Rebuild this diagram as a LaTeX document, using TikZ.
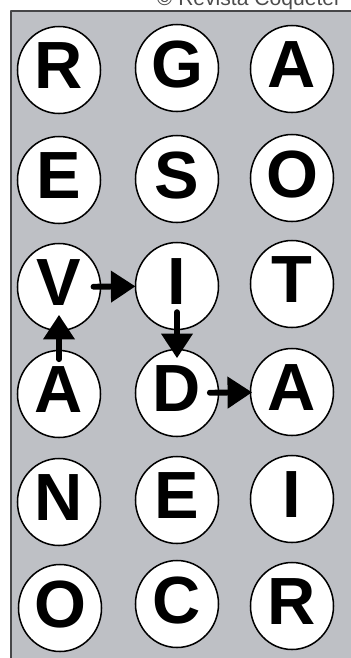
\documentclass[tikz,border=0pt]{standalone}
\usepackage{fontspec}
\setmainfont{Liberation Sans}
\usetikzlibrary{arrows.meta,shapes.geometric}
\definecolor{panelgray}{RGB}{190,192,197}
\definecolor{framegray}{RGB}{70,70,72}
\begin{document}
\begin{tikzpicture}[x=0.03cm,y=-0.03cm,line cap=round,line join=round,
  letter/.style={ellipse,draw=black,line width=1.3pt,fill=white,
    minimum width=2.49cm,minimum height=2.61cm,inner sep=0pt,outer sep=0pt,
    text depth=0.24cm,font=\fontsize{57}{57}\selectfont\bfseries},
  link/.style={line width=5pt,-{Triangle[length=21pt,width=26pt]}}]
  \useasboundingbox (0,0) rectangle (350,658);
  \draw[fill=panelgray,draw=framegray,line width=1.6pt] (11,11) rectangle (380,690);
  \node[anchor=base east,font=\fontsize{18}{18}\selectfont,text=black!70] (credit) at (343,5) {© Revista Coquetel};
  \node[letter] (n11) at (59,70)  {R};
  \node[letter] (n12) at (177,68) {G};
  \node[letter] (n13) at (292,69) {A};
  \node[letter] (n21) at (59,180) {E};
  \node[letter] (n22) at (177,179) {S};
  \node[letter] (n23) at (292,178) {O};
  \node[letter] (n31) at (59,287) {V};
  \node[letter] (n32) at (177,286) {I};
  \node[letter] (n33) at (292,284) {T};
  \node[letter] (n41) at (59,394) {A};
  \node[letter] (n42) at (177,393) {D};
  \node[letter] (n43) at (292,392) {A};
  \node[letter] (n51) at (59,502) {N};
  \node[letter] (n52) at (177,500) {E};
  \node[letter] (n53) at (292,499) {I};
  \node[letter] (n61) at (60,608) {O};
  \node[letter] (n62) at (177,604) {C};
  \node[letter] (n63) at (292,606) {R};
  % word path A-V-I-D-A
  \draw[link,shorten <=-0.26cm,shorten >=-0.47cm] (n41) -- (n31);
  \draw[link,shorten <=-0.21cm] (n31) -- (n32);
  \draw[link,shorten <=-0.52cm,shorten >=-0.26cm] (n32) -- (n42);
  \draw[link,shorten <=-0.26cm,shorten >=-0.05cm] (n42) -- (n43);
\end{tikzpicture}
\end{document}
